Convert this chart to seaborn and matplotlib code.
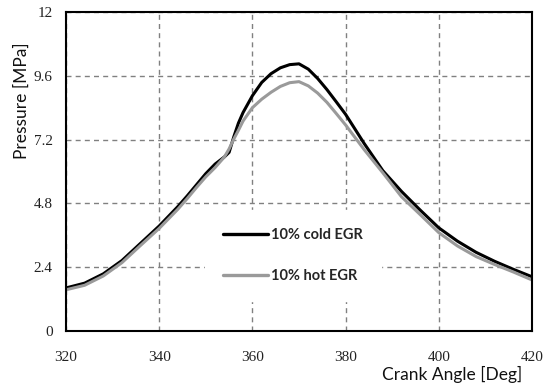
import matplotlib
matplotlib.use("Agg")
import matplotlib.pyplot as plt
import seaborn as sns
import pandas as pd

# Crank angle [deg] and in-cylinder pressure [MPa] for both EGR cases
angles = [320, 324, 328, 332, 336, 340, 344, 346, 348, 350, 352, 354, 355, 356,
          357, 358, 360, 362, 364, 366, 368, 370, 372, 374, 376, 378, 380, 384,
          388, 392, 396, 400, 404, 408, 412, 416, 420]
cold_egr = [1.62, 1.80, 2.15, 2.65, 3.30, 3.95, 4.68, 5.08, 5.50, 5.92, 6.28, 6.55,
            6.72, 7.30, 7.82, 8.22, 8.85, 9.35, 9.68, 9.90, 10.02, 10.05, 9.85,
            9.50, 9.08, 8.62, 8.15, 7.05, 6.03, 5.25, 4.55, 3.88, 3.38, 2.96,
            2.62, 2.32, 2.04]
hot_egr = [1.55, 1.72, 2.07, 2.57, 3.22, 3.86, 4.58, 4.98, 5.40, 5.80, 6.15, 6.55,
           6.85, 7.22, 7.55, 7.90, 8.40, 8.72, 8.98, 9.20, 9.34, 9.38, 9.22,
           8.95, 8.60, 8.18, 7.75, 6.82, 5.95, 5.05, 4.38, 3.70, 3.20, 2.80,
           2.50, 2.22, 1.92]
series_names = ["10% cold EGR", "10% hot EGR"]
x_ticks = [320, 340, 360, 380, 400, 420]
y_ticks = [0, 2.4, 4.8, 7.2, 9.6, 12]
y_tick_labels = ["0", "2.4", "4.8", "7.2", "9.6", "12"]

df = pd.concat([
    pd.DataFrame({"angle": angles, "pressure": cold_egr, "case": series_names[0]}),
    pd.DataFrame({"angle": angles, "pressure": hot_egr, "case": series_names[1]}),
])

sns.set_style("white")
plt.rcParams["font.family"] = ["Lato", "DejaVu Sans"]

fig = plt.figure(figsize=(5.44, 3.89), dpi=100)
ax = fig.add_axes([66 / 544, 1 - 331 / 389, 466 / 544, 319 / 389])

sns.lineplot(data=df, x="angle", y="pressure", hue="case",
             palette={series_names[0]: "#000000", series_names[1]: "#9a9a9a"},
             linewidth=2.2, ax=ax, sort=False)

ax.set_xlim(320, 420)
ax.set_ylim(0, 12)
ax.set_xticks(x_ticks)
ax.set_yticks(y_ticks)
ax.set_yticklabels(y_tick_labels)

ax.grid(True, color="#808080", linestyle=(0, (3.6, 3.0)), linewidth=1.0)
ax.set_axisbelow(True)
for s in ax.spines.values():
    s.set_color("black")
    s.set_linewidth(1.5)

ax.tick_params(axis="both", direction="out", length=4.5, width=1.2, color="black",
               labelsize=11, labelcolor="#222222")
ax.tick_params(axis="x", pad=10)
ax.tick_params(axis="y", pad=5)
for lab in ax.get_xticklabels() + ax.get_yticklabels():
    lab.set_fontfamily("Liberation Serif")

ax.set_xlabel("Crank Angle [Deg]", fontsize=12.5, color="#111111")
ax.xaxis.label.set_ha("right")
ax.xaxis.set_label_coords((522 - 66) / 466, (331 - 366) / 319)
ax.set_ylabel("Pressure [MPa]", fontsize=12.5, color="#111111")
ax.yaxis.set_label_coords((30 - 66) / 466, (331 - 101) / 319)

handles, labels = ax.get_legend_handles_labels()
for h in handles:
    h.set_linewidth(2.4)
leg = ax.legend(handles, labels, loc="upper left",
                bbox_to_anchor=((205 - 66) / 466, (331 - 210) / 319),
                borderaxespad=0, frameon=True, fancybox=False,
                handlelength=3.1, handletextpad=0.2, labelspacing=1.85,
                borderpad=1.25, prop={"family": "Lato", "weight": "bold", "size": 10.5})
leg.get_frame().set_facecolor("white")
leg.get_frame().set_edgecolor("white")
leg.get_frame().set_alpha(1.0)

fig.savefig("out.png", dpi=100)
